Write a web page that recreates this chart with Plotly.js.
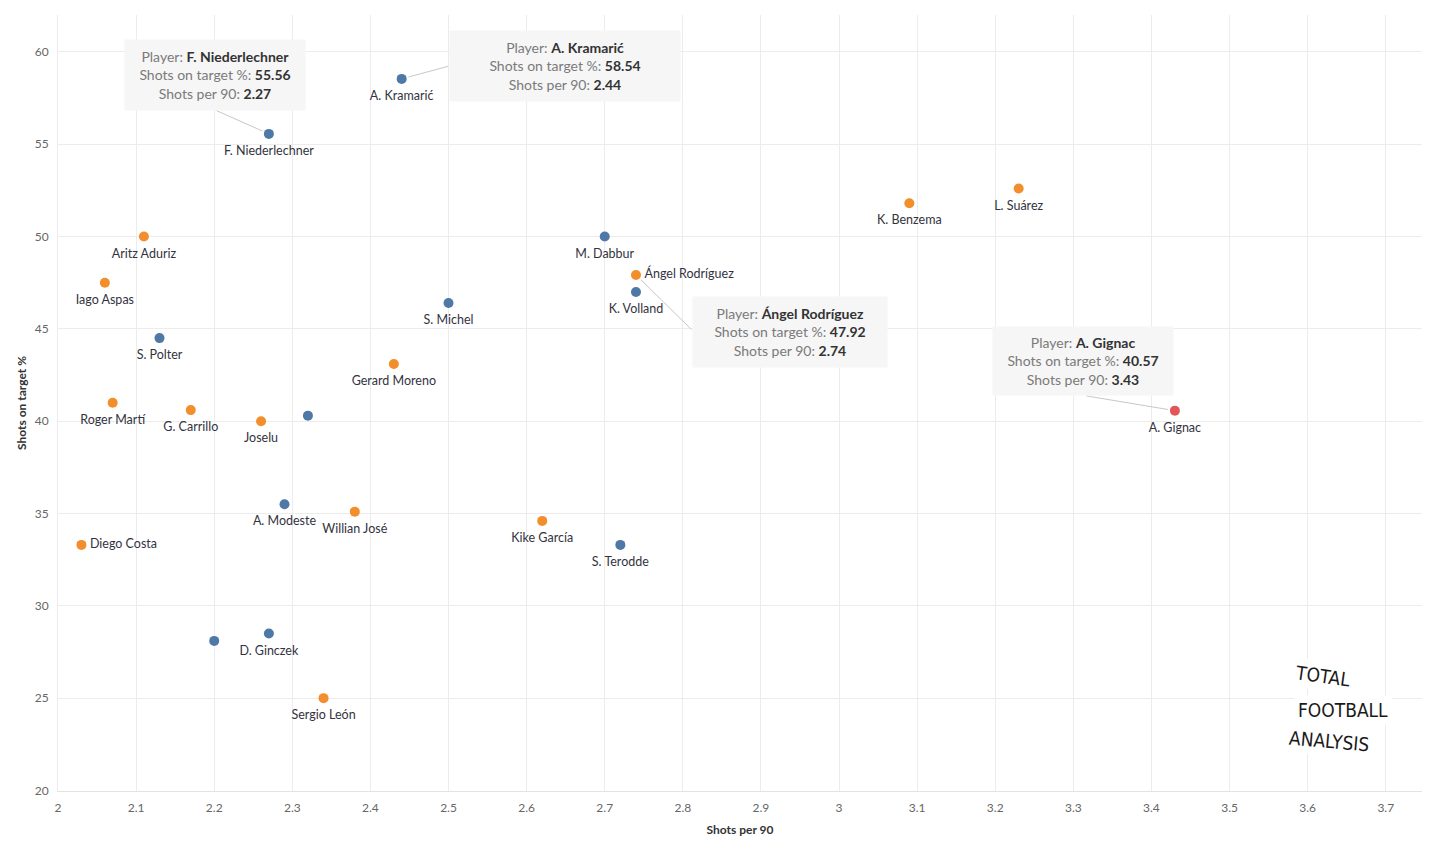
<!DOCTYPE html>
<html>
<head>
<meta charset="utf-8">
<script src="https://cdn.plot.ly/plotly-3.0.1.min.js"></script>
<style>
  html, body { margin: 0; padding: 0; background: #ffffff; }
  #chart { width: 1430px; height: 854px; }
</style>
</head>
<body>
<div id="chart"></div>
<script>
// ---- data ----
const players = [
  "A. Kramarić", "F. Niederlechner", "L. Suárez", "K. Benzema", "Aritz Aduriz",
  "M. Dabbur", "Ángel Rodríguez", "Iago Aspas", "K. Volland", "S. Michel",
  "S. Polter", "Gerard Moreno", "A. Gignac", "Roger Martí", "G. Carrillo",
  "Joselu", "", "A. Modeste", "Willian José", "Kike García",
  "Diego Costa", "S. Terodde", "", "D. Ginczek", "Sergio León"
];
const shotsPer90 = [
  2.44, 2.27, 3.23, 3.09, 2.11,
  2.70, 2.74, 2.06, 2.74, 2.50,
  2.13, 2.43, 3.43, 2.07, 2.17,
  2.26, 2.32, 2.29, 2.38, 2.62,
  2.03, 2.72, 2.20, 2.27, 2.34
];
const shotsOnTargetPct = [
  58.54, 55.56, 52.6, 51.8, 50.0,
  50.0, 47.92, 47.5, 47.0, 46.4,
  44.5, 43.1, 40.57, 41.0, 40.6,
  40.0, 40.3, 35.5, 35.1, 34.6,
  33.3, 33.3, 28.1, 28.5, 25.0
];
const league = [
  "Bundesliga", "Bundesliga", "La Liga", "La Liga", "La Liga",
  "Bundesliga", "La Liga", "La Liga", "Bundesliga", "Bundesliga",
  "Bundesliga", "La Liga", "Liga MX", "La Liga", "La Liga",
  "La Liga", "Bundesliga", "Bundesliga", "La Liga", "La Liga",
  "La Liga", "Bundesliga", "Bundesliga", "Bundesliga", "La Liga"
];
const xTickValues = [2, 2.1, 2.2, 2.3, 2.4, 2.5, 2.6, 2.7, 2.8, 2.9, 3, 3.1, 3.2, 3.3, 3.4, 3.5, 3.6, 3.7];
const yTickValues = [20, 25, 30, 35, 40, 45, 50, 55, 60];
const tooltipPlayers = ["F. Niederlechner", "A. Kramarić", "Ángel Rodríguez", "A. Gignac"];

// ---- styles ----
const leagueColors = { "Bundesliga": "#4e79a7", "La Liga": "#f28e2b", "Liga MX": "#e15759" };
const labelRight = { "Ángel Rodríguez": true, "Diego Costa": true };
// tooltip box layout (pixel offsets from the point): box centre, connector tail, box size
const tooltipStyle = {
  "F. Niederlechner": { bx: -54, by: -59, lx: -54, ly: -24, w: 172, h: 62 },
  "A. Kramarić":      { bx: 163, by: -13, lx: 48,  ly: -13, w: 222, h: 62 },
  "Ángel Rodríguez":  { bx: 154, by: 57,  lx: 57,  ly: 56,  w: 186, h: 62 },
  "A. Gignac":        { bx: -92, by: -50, lx: -90, ly: -15, w: 172, h: 60 }
};

const FONT = "Lato, 'Open Sans', 'Noto Sans', sans-serif";

// labels (placed with a larger, invisible marker so the text sits a bit lower)
const labelTrace = {
  type: "scatter",
  mode: "markers+text",
  x: shotsPer90,
  y: shotsOnTargetPct,
  text: players,
  textposition: players.map(p => labelRight[p] ? "middle right" : "bottom center"),
  textfont: { family: FONT, size: 12.5, color: "#333340" },
  marker: { size: players.map(p => labelRight[p] ? 12 : 17), color: "rgba(0,0,0,0)", line: { width: 0 } },
  cliponaxis: false,
  hoverinfo: "skip",
  showlegend: false
};
const pointTrace = {
  type: "scatter",
  mode: "markers",
  x: shotsPer90,
  y: shotsOnTargetPct,
  marker: { size: 10, color: league.map(l => leagueColors[l]), line: { width: 0 } },
  cliponaxis: false,
  hoverinfo: "skip",
  showlegend: false
};

const annotations = [];
tooltipPlayers.forEach(name => {
  const i = players.indexOf(name);
  const s = tooltipStyle[name];
  annotations.push({
    x: shotsPer90[i], y: shotsOnTargetPct[i], xref: "x", yref: "y",
    ax: s.lx, ay: s.ly, text: "", showarrow: true, arrowhead: 0,
    arrowwidth: 1, arrowcolor: "#c8c8c8", standoff: 7
  });
  const txt =
    '<span style="color:#7a7a7a">Player: </span><b>' + name + '</b><br>' +
    '<span style="color:#7a7a7a">Shots on target %: </span><b>' + shotsOnTargetPct[i].toFixed(2) + '</b><br>' +
    '<span style="color:#7a7a7a">Shots per 90: </span><b>' + shotsPer90[i].toFixed(2) + '</b>';
  annotations.push({
    x: shotsPer90[i], y: shotsOnTargetPct[i], xref: "x", yref: "y",
    ax: s.bx, ay: s.by, text: txt, showarrow: true, arrowcolor: "rgba(0,0,0,0)",
    arrowwidth: 0.1, arrowhead: 0,
    bgcolor: "#f6f6f6", borderpad: 4, width: s.w, height: s.h, align: "center",
    font: { family: FONT, size: 14, color: "#333333" }
  });
});

// logo
const logoFont = { family: "'DejaVu Sans Condensed', 'Liberation Sans Narrow', sans-serif", size: 19, color: "#1a1a1a" };
annotations.push({ xref: "paper", yref: "paper", x: 0.9275, y: 0.148, xanchor: "center", yanchor: "middle",
  text: "TOTAL", showarrow: false, textangle: 8, font: logoFont, bgcolor: "#ffffff", borderpad: 3 });
annotations.push({ xref: "paper", yref: "paper", x: 0.9423, y: 0.105, xanchor: "center", yanchor: "middle",
  text: "FOOTBALL", showarrow: false, font: logoFont, bgcolor: "#ffffff", borderpad: 3 });
annotations.push({ xref: "paper", yref: "paper", x: 0.932, y: 0.064, xanchor: "center", yanchor: "middle",
  text: "ANALYSIS", showarrow: false, textangle: 5, font: logoFont, bgcolor: "#ffffff", borderpad: 3 });

const layout = {
  width: 1430, height: 854,
  margin: { l: 58, r: 8, t: 15, b: 63, pad: 0 },
  paper_bgcolor: "#ffffff", plot_bgcolor: "#ffffff",
  font: { family: FONT, size: 12, color: "#666666" },
  xaxis: {
    range: [2, 3.7464], tickvals: xTickValues, ticktext: xTickValues.map(v => String(v)),
    showgrid: true, gridcolor: "#ececec", gridwidth: 1, zeroline: false,
    showline: true, linecolor: "#e3e3e3", linewidth: 1, ticks: "",
    ticklabelstandoff: 6,
    tickfont: { family: FONT, size: 12, color: "#666666" },
    title: { text: "<b>Shots per 90</b>", font: { family: FONT, size: 12, color: "#333333" }, standoff: 11 },
    automargin: false
  },
  yaxis: {
    range: [19.97, 62.0], tickvals: yTickValues, ticktext: yTickValues.map(v => String(v)),
    showgrid: true, gridcolor: "#ececec", gridwidth: 1, zeroline: false,
    showline: true, linecolor: "#ececec", linewidth: 1, ticks: "",
    ticklabelstandoff: 6,
    tickfont: { family: FONT, size: 12, color: "#666666" },
    title: { text: "<b>Shots on target %</b>", font: { family: FONT, size: 12, color: "#333333" }, standoff: 5 },
    automargin: false
  },
  annotations: annotations,
  showlegend: false
};

Plotly.newPlot("chart", [labelTrace, pointTrace], layout, { displayModeBar: false, staticPlot: true });
</script>
</body>
</html>
